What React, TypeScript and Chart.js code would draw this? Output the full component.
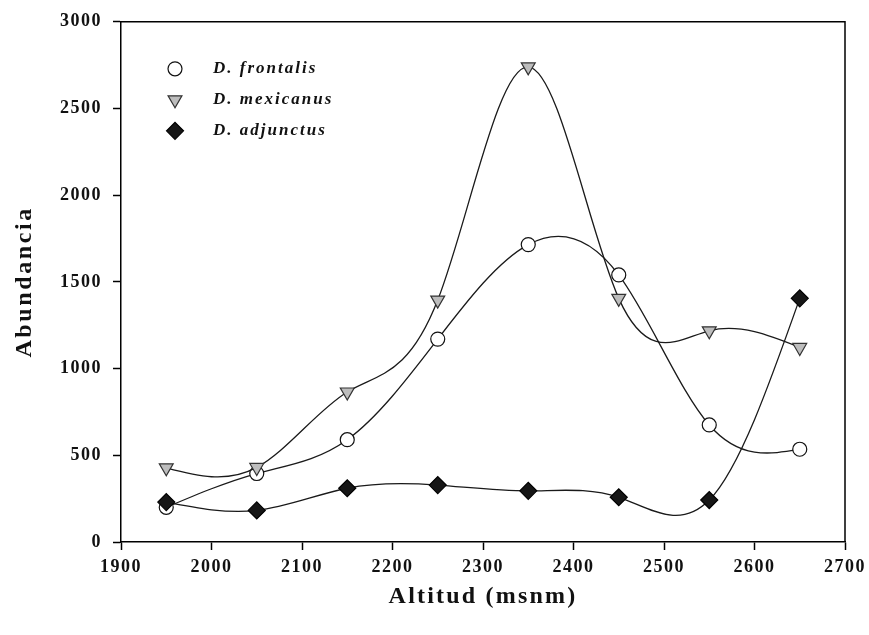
import { useEffect, useRef } from "react";
import { Chart, registerables } from "chart.js";
import { drawPoint } from "chart.js/helpers";

Chart.register(...registerables);

const altitudes = [1950, 2050, 2150, 2250, 2350, 2450, 2550, 2650];
const frontalis = [200, 395, 590, 1170, 1715, 1540, 675, 535];
const mexicanus = [428, 430, 865, 1395, 2740, 1405, 1218, 1122];
const adjunctus = [230, 182, 310, 328, 295, 258, 242, 1405];
const seriesNames = ["D. frontalis", "D. mexicanus", "D. adjunctus"];
const xTitle = "Altitud (msnm)";
const yTitle = "Abundancia";

const SERIF = "'Liberation Serif', 'Times New Roman', serif";

const pointStyles = [
  { pointStyle: "circle", rotation: 0, radius: 7, bg: "#ffffff", border: "#111111" },
  { pointStyle: "triangle", rotation: 180, radius: 8, bg: "#bdbdbd", border: "#333333" },
  { pointStyle: "rectRot", rotation: 0, radius: 8.5, bg: "#161616", border: "#000000" },
];

// natural cubic spline slopes (in pixel space)
function naturalSlopes(xs: number[], ys: number[]): number[] {
  const n = xs.length - 1;
  const h: number[] = [];
  for (let i = 0; i < n; i++) h.push(xs[i + 1] - xs[i]);
  const M = new Array(n + 1).fill(0);
  if (n >= 2) {
    const a: number[] = [], b: number[] = [], c: number[] = [], d: number[] = [];
    for (let i = 1; i < n; i++) {
      a.push(h[i - 1]);
      b.push(2 * (h[i - 1] + h[i]));
      c.push(h[i]);
      d.push(6 * ((ys[i + 1] - ys[i]) / h[i] - (ys[i] - ys[i - 1]) / h[i - 1]));
    }
    const m = b.length;
    for (let i = 1; i < m; i++) {
      const w = a[i] / b[i - 1];
      b[i] -= w * c[i - 1];
      d[i] -= w * d[i - 1];
    }
    const sol = new Array(m).fill(0);
    sol[m - 1] = d[m - 1] / b[m - 1];
    for (let i = m - 2; i >= 0; i--) sol[i] = (d[i] - c[i] * sol[i + 1]) / b[i];
    for (let i = 1; i < n; i++) M[i] = sol[i - 1];
  }
  const slopes: number[] = [];
  for (let i = 0; i < n; i++) {
    slopes.push((ys[i + 1] - ys[i]) / h[i] - (h[i] * (2 * M[i] + M[i + 1])) / 6);
  }
  slopes.push((ys[n] - ys[n - 1]) / h[n - 1] + (h[n - 1] * (M[n - 1] + 2 * M[n])) / 6);
  return slopes;
}

const splinePlugin = {
  id: "naturalSpline",
  beforeDatasetDraw(chart: any, args: any) {
    const meta = args.meta;
    const line = meta.dataset;
    const pts = meta.data;
    if (!line || !pts || pts.length < 3) return;
    if (typeof line.updateControlPoints === "function") line.updateControlPoints(chart.chartArea, "x");
    const xs = pts.map((p: any) => p.x);
    const ys = pts.map((p: any) => p.y);
    const s = naturalSlopes(xs, ys);
    for (let i = 0; i < pts.length; i++) {
      const p = pts[i];
      const hPrev = i > 0 ? xs[i] - xs[i - 1] : 0;
      const hNext = i < pts.length - 1 ? xs[i + 1] - xs[i] : 0;
      p.cp1x = xs[i] - hPrev / 3;
      p.cp1y = ys[i] - (s[i] * hPrev) / 3;
      p.cp2x = xs[i] + hNext / 3;
      p.cp2y = ys[i] + (s[i] * hNext) / 3;
    }
    line._pointsUpdated = true;
    line._path = undefined;
  },
};

const spacingPlugin = {
  id: "spacing",
  beforeLayout(chart: any) {
    chart.ctx.letterSpacing = "1.5px";
  },
  beforeDraw(chart: any) {
    chart.ctx.letterSpacing = "1.5px";
  },
};

const framePlugin = {
  id: "frame",
  afterDraw(chart: any) {
    const { ctx, chartArea } = chart;
    ctx.save();
    ctx.strokeStyle = "#000";
    ctx.lineWidth = 1.5;
    ctx.beginPath();
    ctx.moveTo(chartArea.left, chartArea.top);
    ctx.lineTo(chartArea.right, chartArea.top);
    ctx.lineTo(chartArea.right, chartArea.bottom);
    ctx.stroke();

    // axis titles
    ctx.fillStyle = "#111";
    ctx.font = `bold 24px ${SERIF}`;
    ctx.textAlign = "center";
    ctx.textBaseline = "middle";
    ctx.letterSpacing = "2.2px";
    ctx.fillText(xTitle, (chartArea.left + chartArea.right) / 2, chartArea.bottom + 55);
    ctx.save();
    ctx.translate(chartArea.left - 96, (chartArea.top + chartArea.bottom) / 2);
    ctx.rotate(-Math.PI / 2);
    ctx.letterSpacing = "2.6px";
    ctx.fillText(yTitle, 0, 0);
    ctx.restore();
    ctx.restore();
  },
};

const legendPlugin = {
  id: "insideLegend",
  afterDraw(chart: any) {
    const { ctx, chartArea } = chart;
    ctx.save();
    const mx = chartArea.left + 54;
    const tx = chartArea.left + 92;
    const y0 = chartArea.top + 47;
    const dy = 31;
    seriesNames.forEach((name, i) => {
      const s = pointStyles[i];
      const y = y0 + i * dy;
      ctx.fillStyle = s.bg;
      ctx.strokeStyle = s.border;
      ctx.lineWidth = 1.2;
      drawPoint(ctx, { pointStyle: s.pointStyle as any, rotation: s.rotation, radius: s.radius, borderWidth: 1.2 }, mx, y);
      ctx.letterSpacing = "2px";
      ctx.fillStyle = "#111";
      ctx.font = `italic bold 17px ${SERIF}`;
      ctx.textAlign = "left";
      ctx.textBaseline = "middle";
      ctx.fillText(name, tx, y);
    });
    ctx.restore();
  },
};

export default function App() {
  const canvasRef = useRef<HTMLCanvasElement | null>(null);

  useEffect(() => {
    if (!canvasRef.current) return;
    const series = [frontalis, mexicanus, adjunctus];
    const orders = [2, 1, 0];
    const chart = new Chart(canvasRef.current, {
      type: "line",
      data: {
        datasets: series.map((vals, i) => ({
          label: seriesNames[i],
          data: altitudes.map((x, j) => ({ x, y: vals[j] })),
          order: orders[i],
          borderColor: "#1a1a1a",
          borderWidth: 1.3,
          tension: 0.4,
          fill: false,
          pointStyle: pointStyles[i].pointStyle as any,
          rotation: pointStyles[i].rotation,
          pointRadius: pointStyles[i].radius,
          pointHoverRadius: pointStyles[i].radius,
          pointBackgroundColor: pointStyles[i].bg,
          pointBorderColor: pointStyles[i].border,
          pointBorderWidth: 1.2,
          clip: false as any,
        })),
      },
      options: {
        animation: false,
        responsive: true,
        maintainAspectRatio: false,
        layout: { padding: { top: 21, right: 24, bottom: 0, left: 0 } },
        plugins: {
          legend: { display: false },
          tooltip: { enabled: false },
        },
        scales: {
          x: {
            type: "linear",
            min: 1900,
            max: 2700,
            ticks: {
              stepSize: 100,
              color: "#111",
              padding: 7,
              maxRotation: 0,
              autoSkip: false,
              font: { family: SERIF, size: 18, weight: "bold" },
              callback: (v: any) => String(v),
            },
            grid: {
              drawOnChartArea: false,
              drawTicks: true,
              tickLength: 8,
              tickWidth: 1.5,
              tickColor: "#000",
            },
            border: { display: true, color: "#000", width: 1.5 },
            afterFit: (scale: any) => {
              scale.height = 93;
              scale.paddingRight = 0;
              scale.paddingLeft = 0;
            },
          },
          y: {
            type: "linear",
            min: 0,
            max: 3000,
            ticks: {
              stepSize: 500,
              color: "#111",
              padding: 11,
              font: { family: SERIF, size: 18, weight: "bold" },
              callback: (v: any) => String(v),
            },
            grid: {
              drawOnChartArea: false,
              drawTicks: true,
              tickLength: 8,
              tickWidth: 1.5,
              tickColor: "#000",
            },
            border: { display: true, color: "#000", width: 1.5 },
            afterFit: (scale: any) => {
              scale.width = 121;
            },
          },
        },
      },
      plugins: [spacingPlugin, splinePlugin, framePlugin, legendPlugin],
    });
    return () => chart.destroy();
  }, []);

  return (
    <div style={{ position: "fixed", left: 0, top: 0, width: 869, height: 635, background: "#fff" }}>
      <canvas ref={canvasRef} />
    </div>
  );
}
